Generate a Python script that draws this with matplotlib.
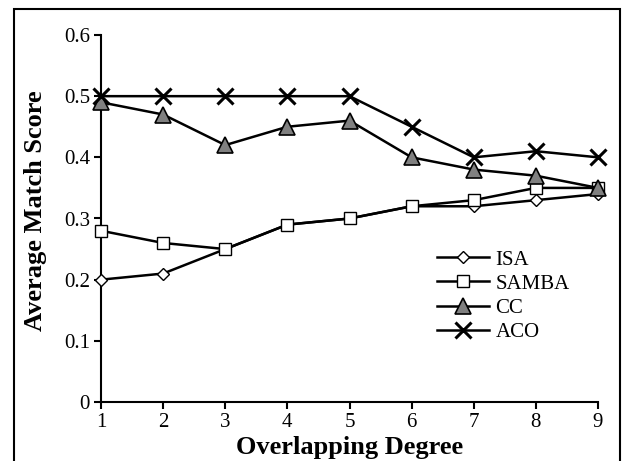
import matplotlib
matplotlib.use("Agg")
import matplotlib.pyplot as plt
from matplotlib.patches import Rectangle

x = [1, 2, 3, 4, 5, 6, 7, 8, 9]
isa = [0.20, 0.21, 0.25, 0.29, 0.30, 0.32, 0.32, 0.33, 0.34]
samba = [0.28, 0.26, 0.25, 0.29, 0.30, 0.32, 0.33, 0.35, 0.35]
cc = [0.49, 0.47, 0.42, 0.45, 0.46, 0.40, 0.38, 0.37, 0.35]
aco = [0.50, 0.50, 0.50, 0.50, 0.50, 0.45, 0.40, 0.41, 0.40]
yticks = [0, 0.1, 0.2, 0.3, 0.4, 0.5, 0.6]
ytick_labels = ["0", "0.1", "0.2", "0.3", "0.4", "0.5", "0.6"]

plt.rcParams['font.family'] = ['Liberation Serif', 'DejaVu Serif']

W, H = 640, 461
fig = plt.figure(figsize=(W/100, H/100), dpi=100)
left, right = 101, 598
top, bottom = 35, 402
ax = fig.add_axes([left/W, 1 - bottom/H, (right-left)/W, (bottom-top)/H])

lw = 1.8
ax.plot(x, isa, color='black', lw=lw, marker='D', ms=6, mfc='white', mec='black', mew=1.0, label='ISA', clip_on=False, zorder=3)
ax.plot(x, samba, color='black', lw=lw, marker='s', ms=9, mfc='white', mec='black', mew=1.0, label='SAMBA', clip_on=False, zorder=3)
ax.plot(x, cc, color='black', lw=lw, marker='^', ms=11, mfc='#808080', mec='black', mew=1.2, label='CC', clip_on=False, zorder=4)
ax.plot(x, aco, color='black', lw=lw, marker='x', ms=11, mec='black', mew=2.2, label='ACO', clip_on=False, zorder=5)

ax.set_xlim(1, 9)
ax.set_ylim(0, 0.6)
ax.set_xticks(x)
ax.set_yticks(yticks)
ax.set_yticklabels(ytick_labels)
ax.tick_params(direction='out', length=5, width=1.5, labelsize=15, pad=3)
for s in ['top', 'right']:
    ax.spines[s].set_visible(False)
for s in ['left', 'bottom']:
    ax.spines[s].set_linewidth(1.5)

ax.set_xlabel('Overlapping Degree', fontsize=19, fontweight='bold', labelpad=3)
ax.set_ylabel('Average Match Score', fontsize=19, fontweight='bold')
ax.yaxis.set_label_coords(-0.108, 0.52)

leg = ax.legend(loc='upper left', bbox_to_anchor=((437-left)/(right-left), (bottom-250)/(bottom-top)),
                frameon=False, fontsize=15, handlelength=2.5, handletextpad=0.3,
                labelspacing=0.22, borderaxespad=0, borderpad=0)

fig.patches.append(Rectangle((14/W, -0.1), (620-14)/W, 1.1 - 9/H, transform=fig.transFigure,
                             fill=False, edgecolor='black', lw=1.5, clip_on=False))

fig.savefig('out.png', dpi=100)
